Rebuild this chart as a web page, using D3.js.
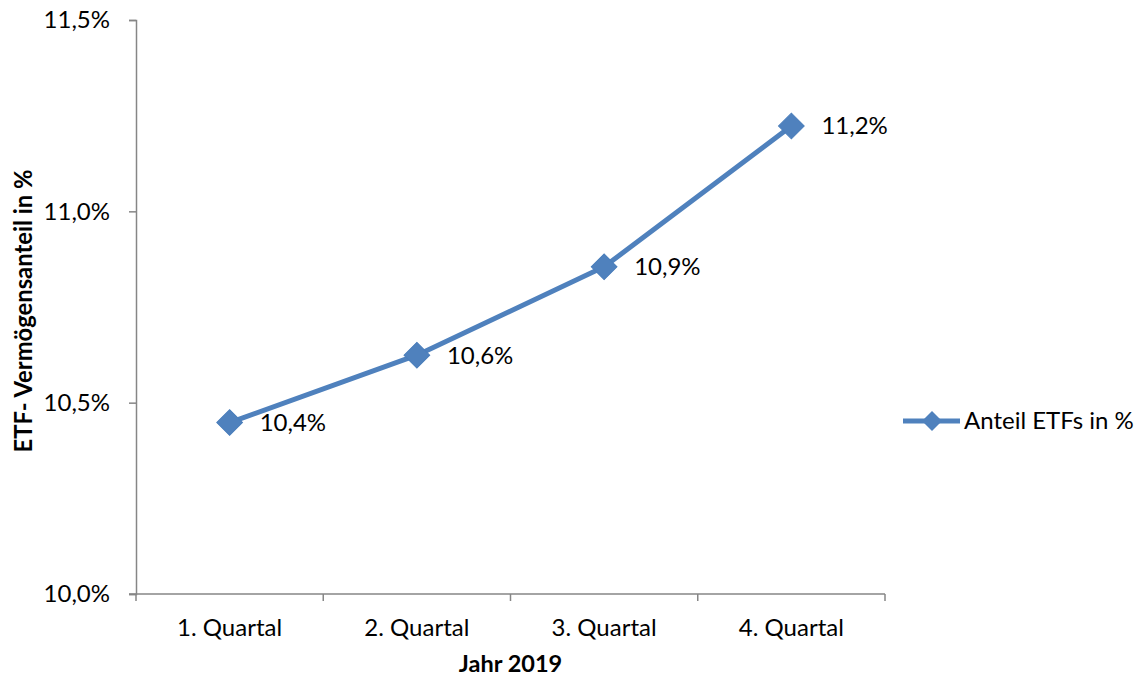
<!DOCTYPE html>
<html>
<head>
<meta charset="utf-8">
<script src="https://cdn.jsdelivr.net/npm/d3@7/dist/d3.min.js"></script>
<style>
  html, body { margin: 0; padding: 0; background: #fff; }
  svg { display: block; }
  text { font-family: Lato, "Open Sans", sans-serif; fill: #000; }
</style>
</head>
<body>
<script>
// Quarterly share of ETFs in fund assets, 2019
const categories = ["1. Quartal", "2. Quartal", "3. Quartal", "4. Quartal"];
const shareValues = [10.448, 10.624, 10.855, 11.223];
const yTicks = [10.0, 10.5, 11.0, 11.5];
const seriesName = "Anteil ETFs in %";
const xTitle = "Jahr 2019";
const yTitle = "ETF- Vermögensanteil in %";

const W = 1137, H = 679;
const plot = { left: 136, right: 885, top: 20, bottom: 594 };
const blue = "#4F81BD";
const axisGrey = "#868686";

const fmt = v => d3.format(".1f")(v).replace(".", ",") + "%";

const svg = d3.select("body").append("svg")
  .attr("width", W).attr("height", H);

const x = d3.scaleBand().domain(categories)
  .range([plot.left, plot.right]).paddingInner(0).paddingOuter(0);
const y = d3.scaleLinear().domain([10.0, 11.5])
  .range([plot.bottom, plot.top]);

// Y axis
const yAxis = svg.append("g")
  .attr("transform", `translate(${plot.left},0)`)
  .call(d3.axisLeft(y).tickValues(yTicks).tickSize(7).tickPadding(19)
    .tickFormat(fmt));
yAxis.select(".domain").attr("stroke", axisGrey).attr("stroke-width", 1.5);
yAxis.selectAll(".tick line").attr("stroke", axisGrey).attr("stroke-width", 1.5);
yAxis.selectAll(".tick text").attr("font-size", 24)
  .style("font-family", "Lato, sans-serif");

// X axis with ticks on the category boundaries
const xAxisG = svg.append("g")
  .attr("transform", `translate(0,${plot.bottom})`);
xAxisG.append("line")
  .attr("x1", plot.left - 7).attr("x2", plot.right)
  .attr("stroke", axisGrey).attr("stroke-width", 1.5);
const boundaries = categories.map(c => x(c)).concat([x(categories[categories.length - 1]) + x.bandwidth()]);
xAxisG.selectAll("line.bt").data(boundaries).enter().append("line")
  .attr("class", "bt")
  .attr("x1", d => d).attr("x2", d => d)
  .attr("y1", 0).attr("y2", 7)
  .attr("stroke", axisGrey).attr("stroke-width", 1.5);
xAxisG.selectAll("text.cat").data(categories).enter().append("text")
  .attr("class", "cat")
  .attr("x", d => x(d) + x.bandwidth() / 2)
  .attr("y", 42)
  .attr("text-anchor", "middle")
  .attr("font-size", 24)
  .text(d => d);

// Axis titles
svg.append("text")
  .attr("x", (plot.left + plot.right) / 2).attr("y", 672)
  .attr("text-anchor", "middle")
  .attr("font-size", 23.5).attr("font-weight", "bold")
  .text(xTitle);
svg.append("text")
  .attr("transform", `translate(32,311) rotate(-90)`)
  .attr("text-anchor", "middle")
  .attr("font-size", 23.8).attr("font-weight", "bold")
  .text(yTitle);

// Series line
const pts = categories.map((c, i) => ({ c, v: shareValues[i] }));
const cx = d => x(d.c) + x.bandwidth() / 2;

svg.append("path")
  .datum(pts)
  .attr("fill", "none")
  .attr("stroke", blue)
  .attr("stroke-width", 5)
  .attr("stroke-linejoin", "round")
  .attr("d", d3.line().x(cx).y(d => y(d.v)));

// Diamond markers
const diamond = d3.symbol().type(d3.symbolSquare).size(330);
svg.selectAll("path.marker").data(pts).enter().append("path")
  .attr("class", "marker")
  .attr("d", diamond)
  .attr("transform", d => `translate(${cx(d)},${y(d.v)}) rotate(45)`)
  .attr("fill", blue)
  .attr("stroke", "#4A7EBB")
  .attr("stroke-width", 1);

// Value labels
svg.selectAll("text.val").data(pts).enter().append("text")
  .attr("class", "val")
  .attr("x", d => cx(d) + 30)
  .attr("y", d => y(d.v))
  .attr("dy", "0.35em")
  .attr("font-size", 24)
  .text(d => fmt(d.v));

// Legend
const lg = svg.append("g").attr("transform", "translate(903,421)");
lg.append("line").attr("x1", 0).attr("x2", 57)
  .attr("stroke", blue).attr("stroke-width", 5);
lg.append("path")
  .attr("d", d3.symbol().type(d3.symbolSquare).size(200))
  .attr("transform", "translate(29,0) rotate(45)")
  .attr("fill", blue);
lg.append("text")
  .attr("x", 61).attr("y", 0).attr("dy", "0.35em")
  .attr("font-size", 24)
  .text(seriesName);
</script>
</body>
</html>
